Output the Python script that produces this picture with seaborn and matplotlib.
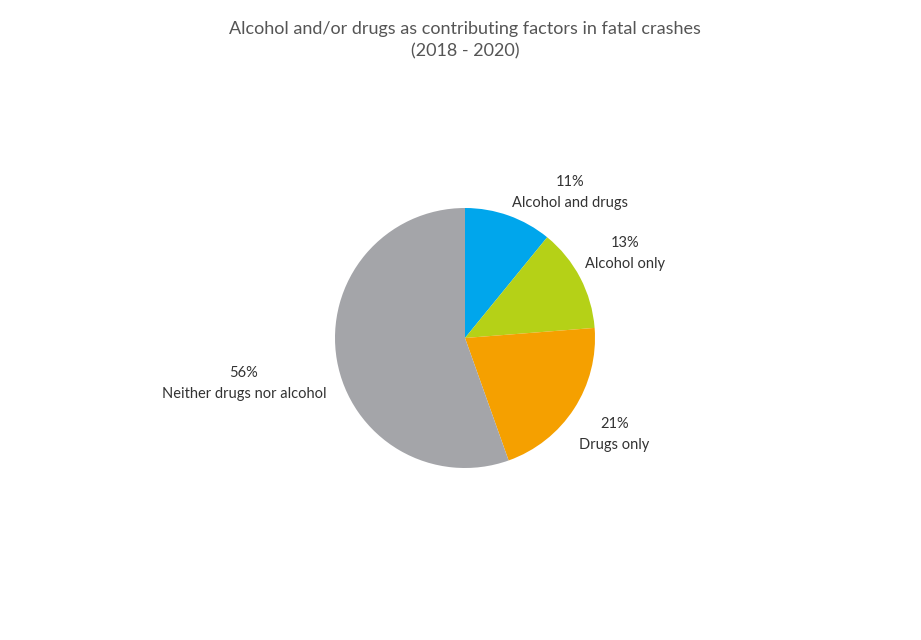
import matplotlib
matplotlib.use("Agg")
import matplotlib.pyplot as plt
import seaborn as sns

sns.set_theme(style="white")
plt.rcParams['font.family'] = ['Lato', 'DejaVu Sans']

categories = ["Alcohol and drugs", "Alcohol only", "Drugs only", "Neither drugs nor alcohol"]
values = [11, 13, 21, 56]
colors = ["#00A6EC", "#B5D117", "#F5A000", "#A4A5A9"]
label_pos = [(0.81, 1.12), (1.23, 0.65), (1.15, -0.74), (-1.70, -0.35)]

fig = plt.figure(figsize=(9.21, 6.4), dpi=100)
ax = fig.add_axes([140/921, -23/640, 650/921, 650/640])
ax.pie(values, colors=colors, startangle=90, counterclock=False, radius=1,
       wedgeprops=dict(linewidth=0))
for cat, v, (x, y) in zip(categories, values, label_pos):
    ax.text(x, y, f"{v}%\n{cat}", ha="center", va="center", fontsize=10.5,
            color="#333333", linespacing=1.6)
ax.set_xlim(-2.5, 2.5)
ax.set_ylim(-2.5, 2.5)
ax.set_aspect("equal")
ax.axis("off")
fig.text(465/921, 1-40/640, "Alcohol and/or drugs as contributing factors in fatal crashes\n(2018 - 2020)",
         ha="center", va="center", fontsize=13, color="#555555", linespacing=1.5)
fig.savefig("out.png", dpi=100)
